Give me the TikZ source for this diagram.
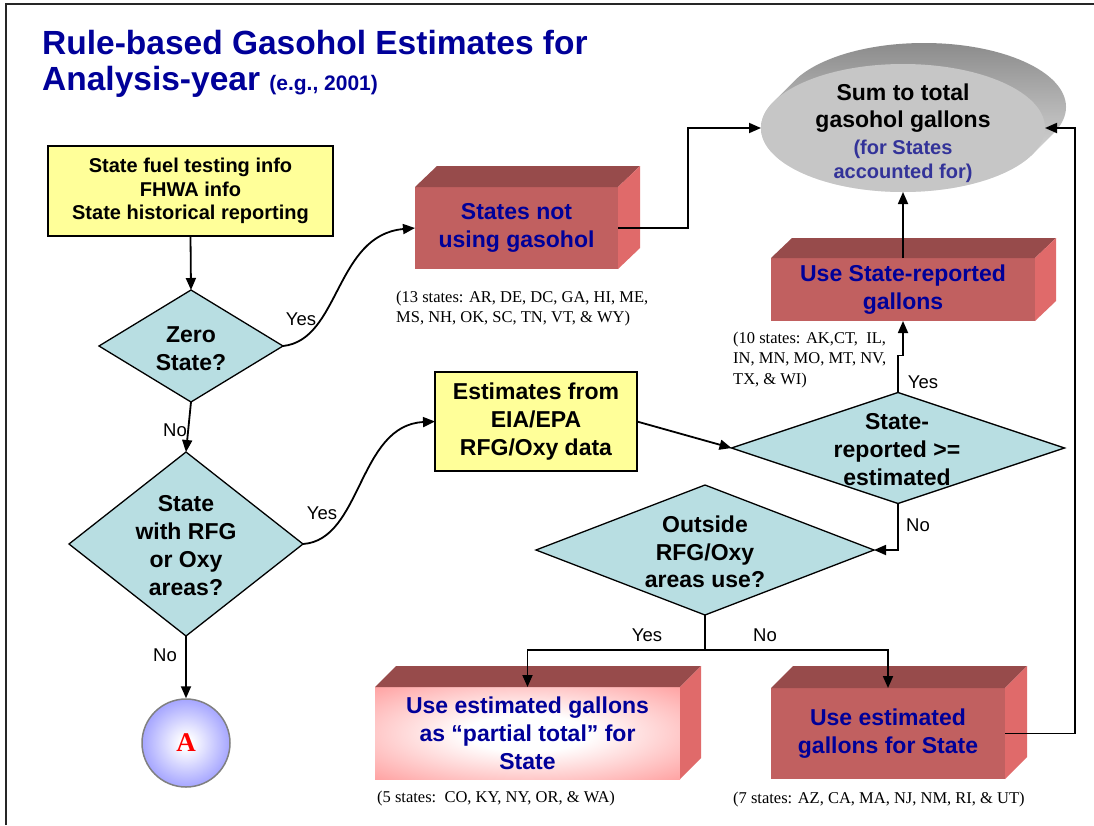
\documentclass[tikz,border=0pt]{standalone}
\usepackage{fontspec}
\setmainfont{Liberation Sans}
\newfontfamily\tnr{Liberation Serif}
\usetikzlibrary{shapes.geometric,arrows.meta,calc}
\definecolor{titleblue}{RGB}{0,0,153}
\definecolor{boxblue}{RGB}{0,0,153}
\definecolor{sumblue}{RGB}{51,51,153}
\definecolor{teal1}{RGB}{184,222,226}
\definecolor{yel}{RGB}{255,255,153}
\definecolor{redfront}{RGB}{193,96,96}
\definecolor{redtop}{RGB}{151,75,75}
\definecolor{redside}{RGB}{224,106,106}
\definecolor{pinkglow}{RGB}{255,128,128}
\definecolor{peri}{RGB}{145,145,255}
\definecolor{ringgray}{RGB}{128,128,128}
\definecolor{ellgray}{RGB}{198,198,198}
\definecolor{extdark}{RGB}{140,140,140}
\definecolor{extlight}{RGB}{235,235,235}
\pgfdeclareradialshading{glow}{\pgfpoint{0bp}{0bp}}{color(0bp)=(white); color(10bp)=(white); color(45bp)=(pinkglow); color(75bp)=(pinkglow)}
\pgfdeclareradialshading{disc}{\pgfpoint{0bp}{0bp}}{color(0bp)=(white); color(3bp)=(white); color(30bp)=(peri); color(60bp)=(peri)}
\newcommand\cubefaces[3]{%
  \fill[redtop] (#1.north west) -- ++(#2,-#3) -- ($(#1.north east)+(#2,-#3)$) -- (#1.north east) -- cycle;
  \fill[redside] (#1.north east) -- ++(#2,-#3) -- ($(#1.south east)+(#2,-#3)$) -- (#1.south east) -- cycle;}
\tikzset{
  conn/.style={line width=1.8pt, -{Triangle[length=12pt,width=10pt]}},
  plainline/.style={line width=1.8pt},
  infobox/.style={rectangle, fill=yel, draw=black, line width=2.5pt, inner sep=0pt, outer sep=0pt, align=center},
  decision/.style={diamond, fill=teal1, draw=black, line width=1.3pt, inner sep=0pt, outer sep=0pt},
  dtext/.style={align=center, inner sep=0pt, font=\fontsize{23}{28}\selectfont\bfseries},
  cubefront/.style={rectangle, fill=redfront, inner sep=0pt, outer sep=0pt, align=center, text=boxblue, font=\fontsize{23}{28}\selectfont\bfseries},
  note/.style={align=left, inner sep=0pt, font=\tnr\fontsize{16.5}{20.5}\selectfont},
  yn/.style={inner sep=0pt, font=\fontsize{18.5}{20}\selectfont}
}
\begin{document}
\begin{tikzpicture}[x=1pt,y=-1pt]
\useasboundingbox (0,0) rectangle (1094,825);
\fill[white] (0,0) rectangle (1094,825);
% frame
\draw[line width=2pt, black!85] (6,825) -- (6,4) -- (1094,4);
% title
\node[anchor=base west, inner sep=0pt, text=titleblue, font=\fontsize{33.5}{40}\selectfont\bfseries] (title1) at (42,54) {Rule-based Gasohol Estimates for};
\node[anchor=base west, inner sep=0pt, text=titleblue, font=\fontsize{33.5}{40}\selectfont\bfseries] (title2) at (42,90) {Analysis-year {\fontsize{21}{24}\selectfont (e.g., 2001)}};

% sum ellipse with extrusion
\shade[top color=extdark, bottom color=extlight] \foreach \i in {0,...,21} { ({903+\i},{128-\i}) ellipse [x radius=142pt, y radius=64pt] };
\node[ellipse, fill=ellgray, minimum width=284pt, minimum height=128pt, inner sep=0pt, outer sep=0pt] (sum) at (903,128) {};
\node[align=center, inner sep=0pt, font=\fontsize{23}{27}\selectfont\bfseries] (sumt1) at (903,108) {Sum to total\\gasohol gallons};
\node[align=center, inner sep=0pt, text=sumblue, font=\fontsize{20}{24}\selectfont\bfseries] (sumt2) at (903,161) {(for States\\accounted for)};

% info box
\node[infobox, minimum width=285pt, minimum height=90pt, font=\fontsize{20}{23.5}\selectfont\bfseries] (info) at (190.5,191) {State fuel testing info\\FHWA info\\State historical reporting};

% estimates box
\node[infobox, minimum width=202pt, minimum height=99pt, font=\fontsize{23}{28}\selectfont\bfseries] (est) at (536,421.5) {Estimates from\\EIA/EPA\\RFG/Oxy data};

% diamonds
\node[decision, minimum width=184pt, minimum height=112pt] (zero) at (191,346) {};
\node[dtext] (zerot) at (191,349) {Zero\\State?};
\node[decision, minimum width=234pt, minimum height=184pt] (rfg) at (186,544) {};
\node[dtext] (rfgt) at (186,546) {State\\with RFG\\or Oxy\\areas?};
\node[decision, minimum width=333pt, minimum height=111pt] (sr) at (898,448) {};
\node[dtext] (srt) at (897,450) {State-\\reported >=\\estimated};
\node[decision, minimum width=338pt, minimum height=130pt] (out) at (705,550) {};
\node[dtext, font=\fontsize{23}{27.5}\selectfont\bfseries] (outt) at (705,552) {Outside\\RFG/Oxy\\areas use?};

% 3D boxes
\node[cubefront, minimum width=203pt, minimum height=82pt] (notusing) at (516.5,228) {States not\\using gasohol};
\cubefaces{notusing}{22}{21}
\node[cubefront, minimum width=264pt, minimum height=63pt] (srbox) at (903,289.5) {Use State-reported\\gallons};
\cubefaces{srbox}{21}{20}
\node[cubefront, shade, shading=glow, minimum width=305pt, minimum height=92pt] (partial) at (527.5,733) {Use estimated gallons\\as \textquotedblleft partial total\textquotedblright{} for\\State};
\cubefaces{partial}{21}{21}
\node[cubefront, minimum width=234pt, minimum height=91pt] (useest) at (888,733.5) {Use estimated\\gallons for State};
\cubefaces{useest}{22}{22}

% circle A
\node[circle, shade, shading=disc, draw=ringgray, line width=1.5pt, minimum size=88pt, inner sep=0pt, text=red, font=\tnr\fontsize{27}{30}\selectfont\bfseries] (A) at (186,743) {A};

% notes
\node[note, anchor=north west] (n13) at (396,290.5) {(13 states: AR, DE, DC, GA, HI, ME,\\MS, NH, OK, SC, TN, VT, \& WY)};
\node[note, anchor=north west] (n10) at (733,331.5) {(10 states: AK,CT,\ \ IL,\\IN, MN, MO, MT, NV,\\TX, \& WI)};
\node[note, anchor=base west] (n5) at (377,802) {(5 states:\ \ CO, KY, NY, OR, \& WA)};
\node[note, anchor=base west] (n7) at (733,803) {(7 states: AZ, CA, MA, NJ, NM, RI, \& UT)};

% yes / no labels
\node[yn] (y1) at (301,319) {Yes};
\node[yn] (no1) at (175,430) {No};
\node[yn] (y2) at (322,513) {Yes};
\node[yn] (no2) at (165,655) {No};
\node[yn] (y3) at (923,382) {Yes};
\node[yn] (no3) at (918,525) {No};
\node[yn] (y4) at (647,635) {Yes};
\node[yn] (no4) at (765,635) {No};

% connectors
\draw[conn] (info.south) -- (zero.north);
\draw[conn] (zero.east) .. controls (340,340) and (335,235) .. (notusing.west);
\draw[conn] (zero.south) -- (rfg.north);
\draw[conn] (rfg.east) .. controls (362,540) and (358,425) .. (est.west);
\draw[conn] (rfg.south) -- (A.north);
\draw[conn] (est.east) -- (sr.west);
\draw[conn] (notusing.east) -- ++(70,0) |- (sum.west);
\draw[conn] (srbox.north) -- (sum.south);
\draw[conn] (sr.north) -- ++(0,-37) -| (srbox.south);
\draw[conn] (sr.south) |- (out.east);
\coordinate (split) at (705,650);
\draw[plainline] (out.south) -- (split);
\draw[conn] (split) -| (partial.north);
\draw[conn] (split) -| (useest.north);
\draw[conn] (useest.east) -- ++(70,0) |- (sum.east);
\end{tikzpicture}
\end{document}
